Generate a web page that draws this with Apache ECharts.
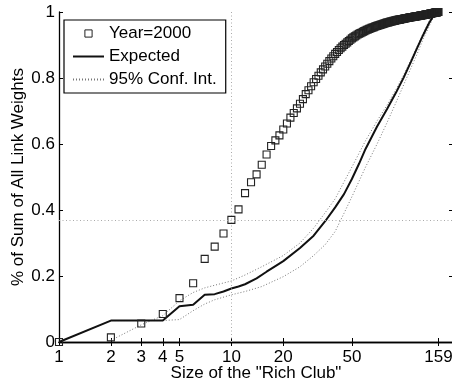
<!DOCTYPE html>
<html>
<head>
<meta charset="utf-8">
<script src="https://cdn.jsdelivr.net/npm/echarts@6/dist/echarts.min.js"></script>
<style>
  html, body { margin: 0; padding: 0; background: #fff; }
  #chart { width: 452px; height: 385px; }
</style>
</head>
<body>
<div id="chart"></div>
<script>
// Rich-club size (number of members)
var clubSize = [
  1, 2, 3, 4, 5, 6, 7, 8, 9, 10,
  11, 12, 13, 14, 15, 16, 17, 18, 19, 20,
  21, 22, 23, 24, 25, 26, 27, 28, 29, 30,
  31, 32, 33, 34, 35, 36, 37, 38, 39, 40,
  41, 42, 43, 44, 45, 46, 47, 48, 49, 50,
  51, 52, 53, 54, 55, 56, 57, 58, 59, 60,
  61, 62, 63, 64, 65, 66, 67, 68, 69, 70,
  71, 72, 73, 74, 75, 76, 77, 78, 79, 80,
  81, 82, 83, 84, 85, 86, 87, 88, 89, 90,
  91, 92, 93, 94, 95, 96, 97, 98, 99, 100,
  101, 102, 103, 104, 105, 106, 107, 108, 109, 110,
  111, 112, 113, 114, 115, 116, 117, 118, 119, 120,
  121, 122, 123, 124, 125, 126, 127, 128, 129, 130,
  131, 132, 133, 134, 135, 136, 137, 138, 139, 140,
  141, 142, 143, 144, 145, 146, 147, 148, 149, 150,
  151, 152, 153, 154, 155, 156, 157, 158, 159
];

// Observed share of total link weight, year 2000
var share2000 = [
  0.000, 0.014, 0.056, 0.085, 0.133, 0.178, 0.252, 0.289, 0.329, 0.370,
  0.402, 0.451, 0.484, 0.508, 0.537, 0.568, 0.594, 0.611, 0.626, 0.644,
  0.662, 0.680, 0.694, 0.708, 0.722, 0.736, 0.751, 0.763, 0.775, 0.787,
  0.797, 0.807, 0.817, 0.826, 0.835, 0.843, 0.851, 0.859, 0.866, 0.873,
  0.879, 0.885, 0.890, 0.895, 0.900, 0.904, 0.908, 0.912, 0.916, 0.920,
  0.923, 0.926, 0.929, 0.932, 0.934, 0.936, 0.938, 0.940, 0.942, 0.944,
  0.946, 0.947, 0.949, 0.950, 0.952, 0.953, 0.954, 0.956, 0.957, 0.958,
  0.959, 0.960, 0.961, 0.962, 0.963, 0.964, 0.965, 0.966, 0.967, 0.968,
  0.968, 0.969, 0.970, 0.971, 0.971, 0.972, 0.973, 0.973, 0.974, 0.975,
  0.975, 0.976, 0.976, 0.977, 0.977, 0.978, 0.978, 0.979, 0.979, 0.980,
  0.980, 0.981, 0.981, 0.982, 0.982, 0.982, 0.983, 0.983, 0.984, 0.984,
  0.984, 0.985, 0.985, 0.985, 0.986, 0.986, 0.986, 0.987, 0.987, 0.987,
  0.988, 0.988, 0.988, 0.989, 0.989, 0.989, 0.990, 0.990, 0.990, 0.991,
  0.991, 0.991, 0.992, 0.992, 0.992, 0.993, 0.993, 0.993, 0.994, 0.994,
  0.994, 0.995, 0.995, 0.995, 0.996, 0.996, 0.996, 0.997, 0.997, 0.997,
  0.998, 0.998, 0.998, 0.999, 0.999, 0.999, 1.000, 1.000, 1.000
];

// Expected share under the null model
var expectedX = [1, 2, 3, 4, 5, 6, 7, 8, 9, 10, 11, 12, 14, 16, 18, 20, 25, 30, 35, 40,
                 45, 50, 55, 60, 70, 80, 90, 100, 110, 120, 130, 140, 150, 159];
var expectedY = [0, 0.065, 0.065, 0.065, 0.108, 0.113, 0.143, 0.145, 0.153, 0.162, 0.168, 0.175,
                 0.193, 0.213, 0.230, 0.245, 0.285, 0.322, 0.366, 0.408, 0.448, 0.494, 0.540,
                 0.585, 0.653, 0.706, 0.755, 0.802, 0.849, 0.893, 0.932, 0.966, 0.992, 1.0];

// 95% confidence band
var ciUpperX = [2, 3, 4, 5, 6, 7, 8, 10, 12, 15, 20, 25, 30, 35, 40, 45, 50, 60, 70, 80,
                90, 100, 110, 120, 130, 140, 150, 159];
var ciUpperY = [0.005, 0.052, 0.080, 0.125, 0.150, 0.164, 0.172, 0.185, 0.203, 0.228, 0.262,
                0.300, 0.345, 0.392, 0.434, 0.485, 0.530, 0.610, 0.670, 0.718, 0.765, 0.810,
                0.855, 0.898, 0.937, 0.972, 0.998, 1.0];
var ciLowerX = [1, 2, 3, 4, 5, 6, 7, 8, 10, 12, 15, 20, 25, 30, 35, 40, 45, 50, 60, 70, 80,
                90, 100, 110, 120, 130, 140, 150, 159];
var ciLowerY = [0, 0.065, 0.065, 0.065, 0.068, 0.095, 0.115, 0.128, 0.143, 0.153, 0.168,
                0.198, 0.228, 0.262, 0.295, 0.335, 0.390, 0.440, 0.530, 0.600, 0.665,
                0.725, 0.780, 0.830, 0.875, 0.920, 0.955, 0.990, 1.0];

// Axis ticks
var xTicks = [1, 2, 3, 4, 5, 10, 20, 50, 159];
var refSize = 10;

function pairs(xs, ys) {
  return xs.map(function (x, i) { return [x, ys[i]]; });
}

var refShare = share2000[clubSize.indexOf(refSize)];
var FONT = 'Liberation Sans, Arial, Helvetica, sans-serif';
var INK = '#000';

var chart = echarts.init(document.getElementById('chart'), null, { renderer: 'canvas' });

var baseX = {
  type: 'log', logBase: 10, min: 1, max: 193,
  axisLine: { show: true, lineStyle: { color: INK, width: 1.3 } },
  axisTick: { show: true, inside: true, length: 4, customValues: xTicks,
              lineStyle: { color: INK, width: 1 } },
  splitLine: { show: false },
  minorTick: { show: false }
};
var baseY = {
  type: 'value', min: 0, max: 1, interval: 0.2,
  axisLine: { show: true, lineStyle: { color: INK, width: 1.3 } },
  axisTick: { show: true, inside: true, length: 4, lineStyle: { color: INK, width: 1 } },
  splitLine: { show: false }
};

chart.setOption({
  animation: false,
  textStyle: { fontFamily: FONT },
  grid: { left: 59, top: 12, width: 394, height: 330, containLabel: false,
          outerBoundsMode: 'none' },
  legend: {
    left: 64, top: 20, orient: 'vertical',
    backgroundColor: '#fff', borderColor: INK, borderWidth: 1.2, borderRadius: 0,
    padding: [5, 9, 5, 8], itemGap: 6, itemWidth: 31, itemHeight: 9,
    textStyle: { fontSize: 17, color: INK, fontFamily: FONT, lineHeight: 17 },
    selectedMode: false,
    data: [
      { name: 'Year=2000', itemStyle: { borderWidth: 1 } },
      { name: 'Expected', itemStyle: { opacity: 0 } },
      { name: '95% Conf. Int.', itemStyle: { opacity: 0 } }
    ]
  },
  xAxis: [
    Object.assign({}, baseX, {
      position: 'bottom',
      axisLabel: { show: true, customValues: xTicks, fontSize: 17, color: INK, margin: 7,
                   fontFamily: FONT },
      name: 'Size of the "Rich Club"', nameLocation: 'middle', nameGap: 23,
      nameMoveOverlap: false,
      nameTextStyle: { fontSize: 17, color: INK, fontFamily: FONT }
    }),
    Object.assign({}, baseX, {
      position: 'top',
      axisLabel: { show: false }
    })
  ],
  yAxis: [
    Object.assign({}, baseY, {
      position: 'left',
      axisLabel: { show: true, fontSize: 17, color: INK, margin: 4, fontFamily: FONT },
      name: '% of Sum of All Link Weights', nameLocation: 'middle', nameGap: 32,
      nameRotate: 90, nameMoveOverlap: false,
      nameTextStyle: { fontSize: 17, color: INK, fontFamily: FONT }
    }),
    Object.assign({}, baseY, {
      position: 'right',
      axisLabel: { show: false }
    })
  ],
  series: [
    {
      name: 'Expected', type: 'line', xAxisIndex: 0, yAxisIndex: 0,
      data: pairs(expectedX, expectedY),
      showSymbol: false, symbol: 'none', silent: true, z: 3,
      lineStyle: { color: '#111', width: 2 },
      itemStyle: { color: '#111' }
    },
    {
      name: '95% Conf. Int.', type: 'line', xAxisIndex: 0, yAxisIndex: 0,
      data: pairs(ciUpperX, ciUpperY),
      showSymbol: false, symbol: 'none', silent: true, z: 2,
      lineStyle: { color: '#777', width: 1, type: [1, 2] },
      itemStyle: { color: '#777' }
    },
    {
      name: '95% Conf. Int.', type: 'line', xAxisIndex: 0, yAxisIndex: 0,
      data: pairs(ciLowerX, ciLowerY),
      showSymbol: false, symbol: 'none', silent: true, z: 2,
      lineStyle: { color: '#777', width: 1, type: [1, 2] },
      itemStyle: { color: '#777' }
    },
    {
      name: 'Year=2000', type: 'line', xAxisIndex: 0, yAxisIndex: 0,
      data: pairs(clubSize, share2000),
      symbol: 'rect', symbolSize: 7, showSymbol: true, showAllSymbol: true,
      silent: true, z: 4,
      lineStyle: { opacity: 0 },
      itemStyle: { color: 'rgba(0,0,0,0)', borderColor: '#222', borderWidth: 1.1 },
      markLine: {
        silent: true, symbol: 'none', animation: false,
        label: { show: false },
        lineStyle: { color: '#aaa', width: 1, type: [1, 2.5] },
        data: [{ xAxis: refSize }, { yAxis: refShare }]
      }
    }
  ]
});
</script>
</body>
</html>
